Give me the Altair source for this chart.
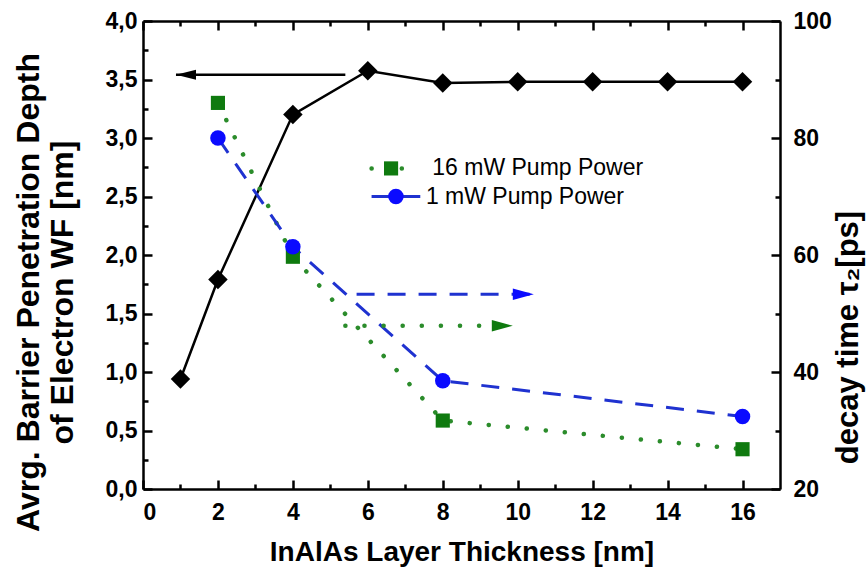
import altair as alt
import pandas as pd

# ---------------- data ----------------
thick_black = [1, 2, 4, 6, 8, 10, 12, 14, 16]
penetration_nm = [0.94, 1.79, 3.20, 3.575, 3.47, 3.48, 3.48, 3.48, 3.48]

thick_tau = [2, 4, 8, 16]
tau_16mw_ps = [86.0, 59.7, 31.7, 26.8]
tau_1mw_ps = [80.0, 61.4, 38.5, 32.4]

series_names = [" 16 mW Pump Power", "1 mW Pump Power"]

x_tick_values = list(range(0, 17))
left_tick_values = [i / 4 for i in range(0, 17)]
right_tick_values = list(range(20, 101, 10))

# arrows telling which axis a curve belongs to: [start x, tip x, level]
arrow_black = [5.4, 0.88, 3.54]
arrow_blue = [5.7, 10.43, 53.3]
arrow_green = [5.4, 9.87, 47.9]

# in-plot legend: [line start x, line end x, marker x, text x, level]
legend_green = [6.1, 7.15, 6.62, 7.72, 74.8]
legend_blue = [6.1, 7.4, 6.75, 7.55, 70.0]

# ---------------- colours / styles ----------------
BLACK = "#000000"
GREEN_LINE = "#2b8c2b"
GREEN_MARK = "#0f7a0f"
BLUE_LINE = "#1f32d0"
BLUE_MARK = "#0b0bff"
FONT = "Liberation Sans"

black_df = pd.DataFrame({"x": thick_black, "y": penetration_nm})
green_df = pd.DataFrame({"x": thick_tau, "y": tau_16mw_ps})
blue_df = pd.DataFrame({"x": thick_tau, "y": tau_1mw_ps})


def arrow_frames(a):
    shaft = pd.DataFrame({"x": [a[0], a[1]], "y": [a[2], a[2]]})
    head = pd.DataFrame({"x": [a[1]], "y": [a[2]]})
    return shaft, head


def legend_frames(l, name):
    seg = pd.DataFrame({"x": [l[0], l[1]], "y": [l[4], l[4]]})
    mark = pd.DataFrame({"x": [l[2]], "y": [l[4]]})
    txt = pd.DataFrame({"x": [l[3]], "y": [l[4]], "label": [name]})
    return seg, mark, txt


x_scale = alt.Scale(domain=[0, 17], nice=False, zero=False)
left_scale = alt.Scale(domain=[0, 4], nice=False, zero=False)
right_scale = alt.Scale(domain=[20, 100], nice=False, zero=False)

x_axis_bottom = alt.Axis(
    orient="bottom",
    values=x_tick_values,
    labelExpr="datum.value % 2 == 0 ? datum.label : ''",
    title="InAlAs Layer Thickness [nm]",
    titleFontSize=28,
    titlePadding=14,
    labelPadding=21,
    tickSize={"condition": {"test": "datum.value % 2 != 0", "value": -5}, "value": -9},
)
x_axis_top = alt.Axis(
    orient="top",
    values=x_tick_values,
    labels=False,
    title=None,
    tickSize={"condition": {"test": "datum.value % 2 != 0", "value": -5}, "value": -9},
)
left_axis = alt.Axis(
    orient="left",
    values=left_tick_values,
    labelExpr="datum.value % 0.5 == 0 ? replace(format(datum.value, '.1f'), '.', ',') : ''",
    title=["Avrg. Barrier Penetration Depth", "of Electron WF [nm]"],
    titleFontSize=32,
    titleLineHeight=34,
    titlePadding=26,
    titleY=271,
    labelPadding=15,
    tickSize={"condition": {"test": "datum.value % 0.5 != 0", "value": -5}, "value": -9},
)
right_axis = alt.Axis(
    orient="right",
    values=right_tick_values,
    labelExpr="datum.value % 20 == 0 ? datum.label : ''",
    title="decay time τ₂[ps]",
    titleAngle=270,
    titleBaseline="top",
    titleFontSize=31,
    titlePadding=2,
    titleY=316,
    labelPadding=22,
    tickSize={"condition": {"test": "datum.value % 20 != 0", "value": -5}, "value": -9},
)

XB = dict(field="x", type="quantitative", scale=x_scale, axis=x_axis_bottom)
XT = dict(field="x", type="quantitative", scale=x_scale, axis=x_axis_top)
YL = dict(field="y", type="quantitative", scale=left_scale, axis=left_axis)
YR = dict(field="y", type="quantitative", scale=right_scale, axis=right_axis)

# ---------------- left-axis group (black) ----------------
b_line = alt.Chart(black_df).mark_line(color=BLACK, strokeWidth=2.5).encode(
    x=alt.X(**XB), y=alt.Y(**YL))
b_pts = alt.Chart(black_df).mark_point(
    shape="diamond", filled=True, color=BLACK, size=380, opacity=1).encode(
    x=alt.X(**XB), y=alt.Y(**YL))
ab_shaft, ab_head = arrow_frames(arrow_black)
b_arrow = alt.Chart(ab_shaft).mark_line(color=BLACK, strokeWidth=2.5).encode(
    x=alt.X(**XB), y=alt.Y(**YL))
b_head = alt.Chart(ab_head).mark_point(
    shape="M0,0L2,-0.5L2,0.5Z", filled=True, color=BLACK, size=400, opacity=1).encode(
    x=alt.X(**XB), y=alt.Y(**YL))
left_group = alt.layer(b_line, b_arrow, b_head, b_pts)

# ---------------- right-axis group (green / blue) ----------------
DOT = dict(strokeDash=[0.1, 19], strokeCap="round", strokeWidth=4.5)
DASH = dict(strokeDash=[18, 13], strokeWidth=3)

g_line = alt.Chart(green_df).mark_line(color=GREEN_LINE, **DOT).encode(
    x=alt.X(**XT), y=alt.Y(**YR))
g_pts = alt.Chart(green_df).mark_point(
    shape="square", filled=True, color=GREEN_MARK, size=200, opacity=1).encode(
    x=alt.X(**XT), y=alt.Y(**YR))
u_line = alt.Chart(blue_df).mark_line(color=BLUE_LINE, **DASH).encode(
    x=alt.X(**XT), y=alt.Y(**YR))
u_pts = alt.Chart(blue_df).mark_point(
    shape="circle", filled=True, color=BLUE_MARK, size=240, opacity=1).encode(
    x=alt.X(**XT), y=alt.Y(**YR))

ag_shaft, ag_head = arrow_frames(arrow_green)
g_arrow = alt.Chart(ag_shaft).mark_line(color=GREEN_LINE, **DOT).encode(
    x=alt.X(**XT), y=alt.Y(**YR))
g_head = alt.Chart(ag_head).mark_point(
    shape="M0,0L-2,-0.55L-2,0.55Z", filled=True, color=GREEN_MARK, size=441, opacity=1).encode(
    x=alt.X(**XT), y=alt.Y(**YR))
au_shaft, au_head = arrow_frames(arrow_blue)
u_arrow = alt.Chart(au_shaft).mark_line(color=BLUE_LINE, **DASH).encode(
    x=alt.X(**XT), y=alt.Y(**YR))
u_head = alt.Chart(au_head).mark_point(
    shape="M0,0L-2,-0.55L-2,0.55Z", filled=True, color=BLUE_MARK, size=441, opacity=1).encode(
    x=alt.X(**XT), y=alt.Y(**YR))

lg_seg, lg_mark, lg_txt = legend_frames(legend_green, series_names[0])
lu_seg, lu_mark, lu_txt = legend_frames(legend_blue, series_names[1])
leg_g_line = alt.Chart(lg_seg).mark_line(color=GREEN_LINE, strokeDash=[0.1, 15], strokeCap="round", strokeWidth=4.5).encode(
    x=alt.X(**XT), y=alt.Y(**YR))
leg_g_mark = alt.Chart(lg_mark).mark_point(
    shape="square", filled=True, color=GREEN_MARK, size=200, opacity=1).encode(
    x=alt.X(**XT), y=alt.Y(**YR))
leg_g_txt = alt.Chart(lg_txt).mark_text(
    align="left", baseline="middle", font=FONT, fontSize=23, color=BLACK).encode(
    x=alt.X(**XT), y=alt.Y(**YR), text="label:N")
leg_u_line = alt.Chart(lu_seg).mark_line(color=BLUE_LINE, strokeWidth=3).encode(
    x=alt.X(**XT), y=alt.Y(**YR))
leg_u_mark = alt.Chart(lu_mark).mark_point(
    shape="circle", filled=True, color=BLUE_MARK, size=240, opacity=1).encode(
    x=alt.X(**XT), y=alt.Y(**YR))
leg_u_txt = alt.Chart(lu_txt).mark_text(
    align="left", baseline="middle", font=FONT, fontSize=23, color=BLACK).encode(
    x=alt.X(**XT), y=alt.Y(**YR), text="label:N")

right_group = alt.layer(
    g_line, u_line, g_arrow, g_head, u_arrow, u_head,
    leg_g_line, leg_g_mark, leg_g_txt, leg_u_line, leg_u_mark, leg_u_txt,
    g_pts, u_pts,
)

chart = (
    alt.layer(left_group, right_group)
    .resolve_scale(y="independent")
    .resolve_axis(x="independent", y="independent")
    .properties(
        width=637,
        height=468,
        autosize=alt.AutoSizeParams(type="none"),
        padding={"left": 143, "top": 21, "right": 88, "bottom": 81},
        background="white",
    )
    .configure_view(stroke=None)
    .configure_axis(
        grid=False,
        domainColor=BLACK,
        domainWidth=2.5,
        tickColor=BLACK,
        tickWidth=2.5,
        labelFont=FONT,
        labelFontWeight="bold",
        labelFontSize=23,
        labelColor=BLACK,
        titleFont=FONT,
        titleFontWeight="bold",
        titleColor=BLACK,
    )
)

chart.save("out.html", embed_options={"renderer": "svg", "actions": False})
